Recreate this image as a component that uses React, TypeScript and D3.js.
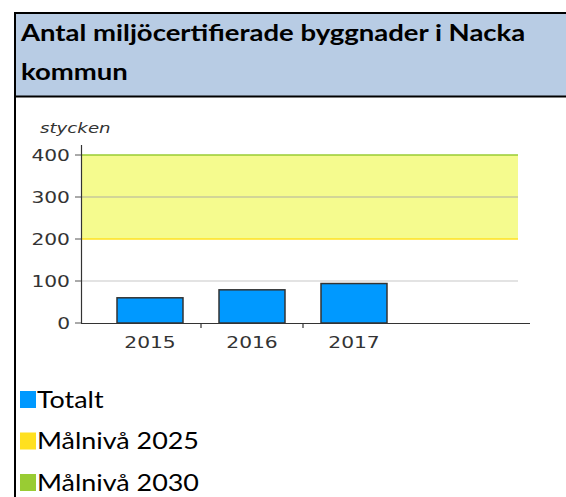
import React from "react";
import * as d3 from "d3";

const titleLines = ["Antal miljöcertifierade byggnader i Nacka", "kommun"];
const unitLabel = "stycken";
const years = ["2015", "2016", "2017"];
const totals = [60, 79, 94];
const yTicks = [0, 100, 200, 300, 400];
const target2025 = 200;
const target2030 = 400;
const legendItems = ["Totalt", "Målnivå 2025", "Målnivå 2030"];
const legendColors = ["#0099ff", "#ffe020", "#99cc33"];

export default function App() {
  const W = 566;
  const H = 497;
  const plotLeft = 81;
  const plotRight = 518;
  const axisRight = 530;
  const y = d3.scaleLinear().domain([0, 400]).range([323, 155]);
  const x = d3.scaleBand<string>().domain(years).range([99, 405]).padding(0);
  const bw = x.bandwidth();
  const barW = bw * 0.647;
  const sx = 1.35;
  const axisFont = "DejaVu Sans, Verdana, sans-serif";
  const between = years.slice(1).map((yr) => x(yr) as number);

  return (
    <svg
      width={W}
      height={H}
      style={{ position: "absolute", left: 0, top: 0, display: "block" }}
    >
      <rect x={0} y={0} width={W} height={H} fill="#ffffff" />
      {/* title cell */}
      <rect x={16} y={14} width={W - 16} height={82} fill="#b8cce4" />
      <line x1={14} x2={W} y1={13} y2={13} stroke="#000" strokeWidth={2} />
      <line x1={14} x2={W} y1={96.5} y2={96.5} stroke="#000" strokeWidth={2} />
      <line x1={15} x2={15} y1={12} y2={H} stroke="#000" strokeWidth={2} />
      {titleLines.map((t, i) => (
        <text
          key={t}
          transform={`translate(21, ${40.5 + i * 39}) scale(1.25,1)`}
          fontFamily="Lato, 'Open Sans', sans-serif"
          fontWeight={700}
          fontSize={22}
          fill="#000"
        >
          {t}
        </text>
      ))}

      {/* target band */}
      <rect
        x={plotLeft}
        y={y(target2030)}
        width={plotRight - plotLeft}
        height={y(target2025) - y(target2030)}
        fill="#f5fb8e"
      />
      {yTicks
        .filter((v) => v !== 0 && v !== target2025 && v !== target2030)
        .map((v) => (
          <line
            key={"g" + v}
            x1={plotLeft}
            x2={plotRight}
            y1={y(v)}
            y2={y(v)}
            stroke={v > target2025 ? "#b0b0a0" : "#c8c8c8"}
            strokeWidth={1.2}
          />
        ))}
      <line
        x1={plotLeft}
        x2={plotRight}
        y1={y(target2030)}
        y2={y(target2030)}
        stroke={legendColors[2]}
        strokeWidth={1.3}
      />
      <line
        x1={plotLeft}
        x2={plotRight}
        y1={y(target2025)}
        y2={y(target2025)}
        stroke={legendColors[1]}
        strokeWidth={1.3}
      />

      {/* bars */}
      {years.map((yr, i) => (
        <rect
          key={yr}
          x={(x(yr) as number) + (bw - barW) / 2}
          y={y(totals[i])}
          width={barW}
          height={y(0) - y(totals[i])}
          fill={legendColors[0]}
          stroke="#333"
          strokeWidth={1.5}
        />
      ))}

      {/* axes */}
      <line x1={plotLeft + 0.5} x2={plotLeft + 0.5} y1={145} y2={y(0)} stroke="#333" strokeWidth={1.2} />
      <line x1={plotLeft} x2={axisRight} y1={y(0) + 0.5} y2={y(0) + 0.5} stroke="#333" strokeWidth={1.2} />
      {yTicks.map((v) => (
        <g key={"t" + v}>
          <line x1={75} x2={plotLeft} y1={y(v)} y2={y(v)} stroke="#555" strokeWidth={1} />
          <text
            transform={`translate(70, ${y(v) + 5.5}) scale(${sx},1)`}
            textAnchor="end"
            fontFamily={axisFont}
            fontSize={15}
            fill="#333"
          >
            {v}
          </text>
        </g>
      ))}
      {between.map((bx, i) => (
        <line key={"xt" + i} x1={bx} x2={bx} y1={y(0)} y2={y(0) + 5} stroke="#333" strokeWidth={1.2} />
      ))}
      {years.map((yr) => (
        <text
          key={"xl" + yr}
          transform={`translate(${(x(yr) as number) + bw / 2}, 348) scale(${sx},1)`}
          textAnchor="middle"
          fontFamily={axisFont}
          fontSize={15}
          fill="#333"
        >
          {yr}
        </text>
      ))}
      <text
        transform={`translate(40, 133) scale(1.3,1)`}
        fontFamily={axisFont}
        fontStyle="italic"
        fontSize={14}
        fill="#333"
      >
        {unitLabel}
      </text>

      {/* legend */}
      {legendItems.map((it, i) => (
        <g key={it}>
          <rect x={20} y={391 + i * 41.5} width={16} height={17} fill={legendColors[i]} />
          <text
            transform={`translate(37, ${407.5 + i * 41.5}) scale(1.17,1)`}
            fontFamily="Lato, 'Open Sans', sans-serif"
            fontSize={23}
            fill="#000"
          >
            {it}
          </text>
        </g>
      ))}
    </svg>
  );
}
